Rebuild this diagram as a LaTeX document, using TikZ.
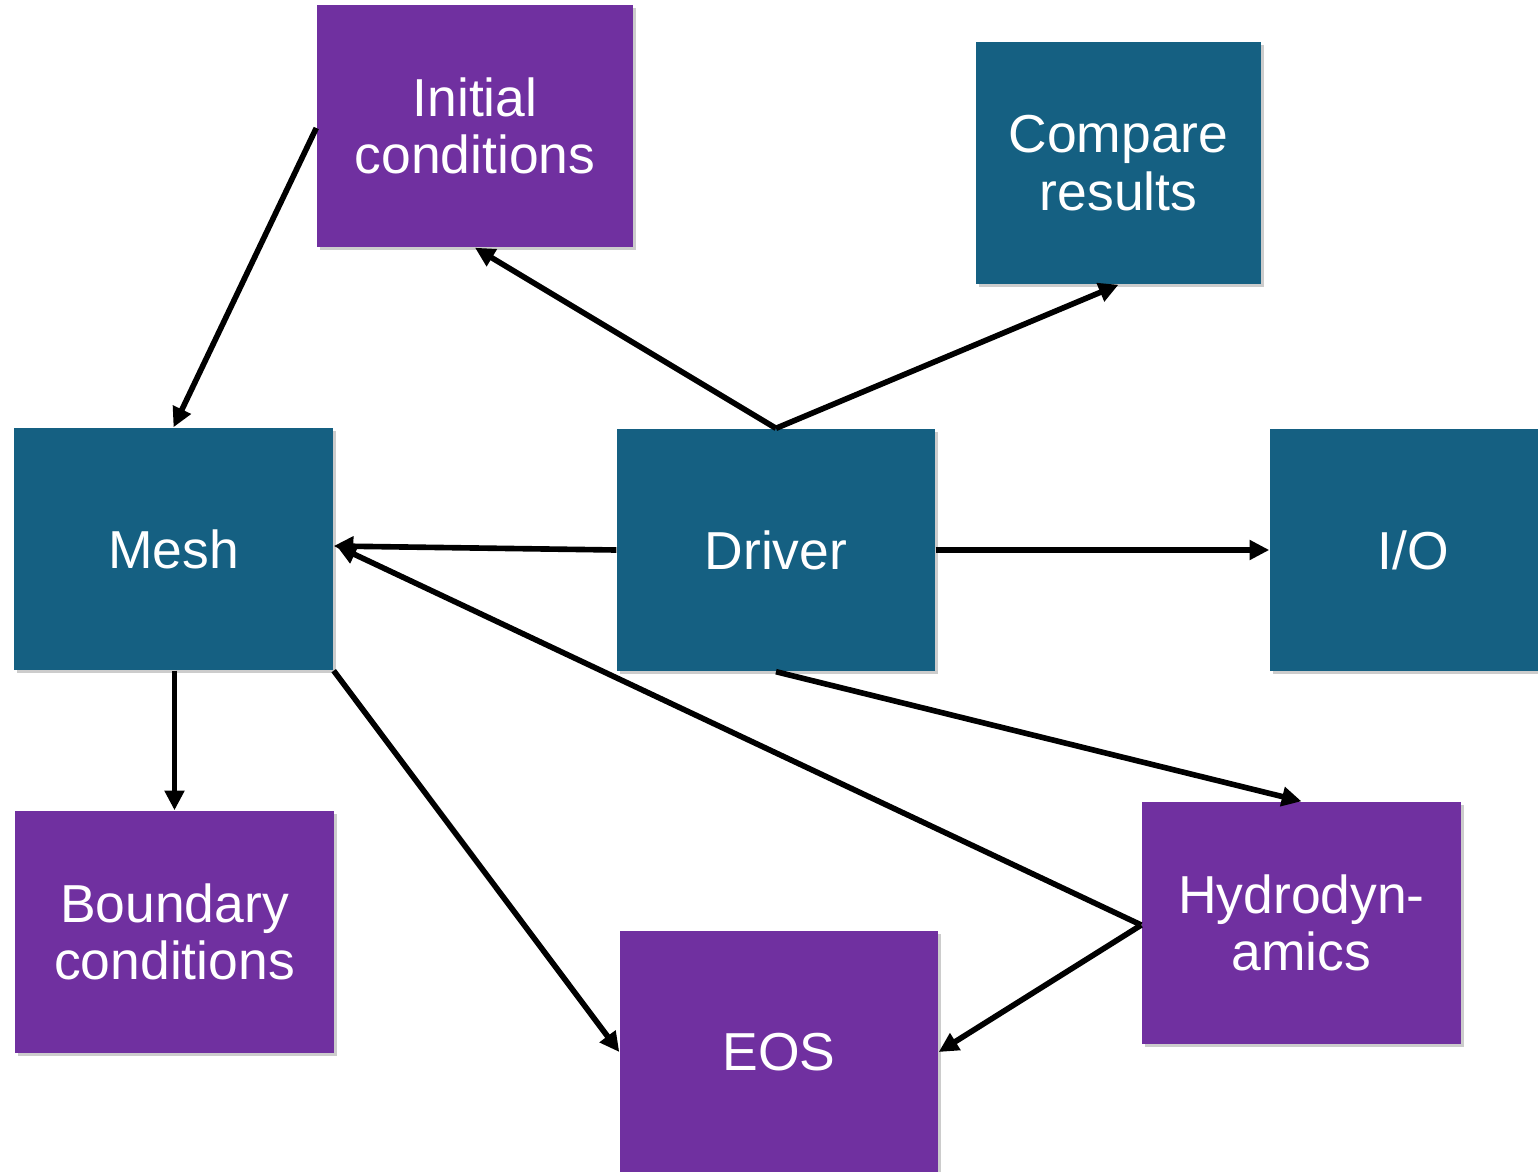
\documentclass[tikz,border=0pt]{standalone}
\usepackage{fontspec}
\setmainfont{Liberation Sans}
\usetikzlibrary{arrows.meta,shadows}
\definecolor{boxblue}{HTML}{156082}
\definecolor{boxpurple}{HTML}{7030A0}
\newlength{\pxu}
\setlength{\pxu}{0.01cm}
\tikzset{
  box/.style={rectangle, minimum width=318\pxu, minimum height=242\pxu, inner sep=0pt,
    text=white, align=center, font=\fontsize{15.2pt}{16.4pt}\selectfont,
    drop shadow={shadow xshift=0.8pt, shadow yshift=-0.8pt, opacity=0.2, fill=black}},
  bluebox/.style={box, fill=boxblue},
  purplebox/.style={box, fill=boxpurple},
  conn/.style={line width=1.6pt, black, -{Triangle[length=5.6pt,width=5.4pt]}}
}
\begin{document}
\begin{tikzpicture}[x=0.01cm,y=-0.01cm]
\useasboundingbox (0,0) rectangle (1538,1172);
\clip (0,0) rectangle (1538,1172);
\node[purplebox, minimum width=316\pxu] (init) at (475,126) {Initial\\conditions};
\node[bluebox, minimum width=285\pxu] (compare) at (1118.5,163) {Compare\\results};
\node[bluebox, minimum width=319\pxu] (mesh) at (173.5,549) {Mesh};
\node[bluebox] (driver) at (776,550) {Driver};
\node[bluebox, minimum width=286\pxu] (io) at (1413,550) {I/O};
\node[purplebox, minimum width=319\pxu] (bc) at (174.5,932) {Boundary\\conditions};
\node[purplebox] (eos) at (779,1052) {EOS};
\node[purplebox, minimum width=319\pxu] (hydro) at (1301.5,923) {Hydrodyn-\\amics};
% connectors
\draw[conn] ([yshift=-2\pxu]init.west) -- (mesh.north);
\draw[conn] (driver.north) -- (init.south);
\draw[conn] (driver.north) -- (compare.south);
\draw[conn] (driver.west) -- ([yshift=3\pxu]mesh.east);
\draw[conn] (driver.east) -- (io.west);
\draw[conn] (driver.south) -- (hydro.north);
\draw[conn] ([yshift=-2\pxu]hydro.west) -- ([xshift=3\pxu,yshift=3\pxu]mesh.east);
\draw[conn] ([yshift=-2\pxu]hydro.west) -- (eos.east);
\draw[conn] ([xshift=1\pxu]mesh.south) -- (bc.north);
\draw[conn] (mesh.south east) -- (eos.west);
\end{tikzpicture}
\end{document}
